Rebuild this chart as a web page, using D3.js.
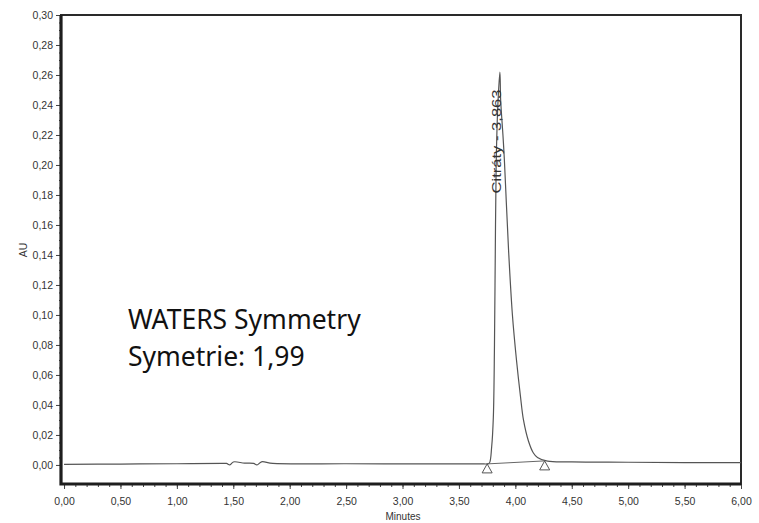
<!DOCTYPE html>
<html>
<head>
<meta charset="utf-8">
<script src="https://cdn.jsdelivr.net/npm/d3@7"></script>
<style>
  body { margin: 0; background: #fff; }
  .tick text { font-family: "Liberation Sans", Arial, sans-serif; font-size: 10.5px; fill: #333; }
  .tick line { stroke: #444; }
</style>
</head>
<body>
<div id="viz"></div>
<script>
// chromatogram trace (minutes, AU)
var times = [0.00, 0.50, 1.00, 1.40, 1.44, 1.47, 1.50, 1.60, 1.68, 1.71, 1.75, 1.85, 2.50, 3.00, 3.50, 3.70, 3.75,
  3.77, 3.79, 3.805, 3.815, 3.822, 3.83, 3.845, 3.863, 3.87, 3.89, 3.903, 3.92, 3.94, 3.974, 4.01, 4.045, 4.072,
  4.116, 4.16, 4.196, 4.285, 4.50, 5.00, 5.50, 6.00];
var au = [0.0004, 0.0006, 0.0008, 0.0010, 0.0010, 0.0000, 0.0020, 0.0012, 0.0010, 0.0000, 0.0021, 0.0010, 0.0008, 0.0007, 0.0007, 0.0007, 0.0007,
  0.0013, 0.012, 0.032, 0.080, 0.140, 0.200, 0.240, 0.262, 0.243, 0.220, 0.203, 0.175, 0.143, 0.100, 0.070, 0.046, 0.030,
  0.016, 0.008, 0.005, 0.0025, 0.0020, 0.0018, 0.0016, 0.0016];

// integration marks
var markTimes = [3.75, 4.26];
var markAu = [0.0007, 0.0027];

var peakName = "Citráty - 3,863";
var peakTime = 3.863;
var notes = ["WATERS Symmetry", "Symetrie: 1,99"];

var xTicks = d3.range(0, 6.01, 0.5);
var yTicks = d3.range(0, 0.301, 0.02);

var width = 759, height = 523;
var m = {left: 61, top: 15, right: 18, bottom: 39};
var w = width - m.left - m.right, h = height - m.top - m.bottom;

var svg = d3.select("#viz").append("svg").attr("width", width).attr("height", height);
var g = svg.append("g").attr("transform", "translate(" + m.left + "," + m.top + ")");

var x = d3.scaleLinear().domain([-0.027, 6]).range([0, w]);
var y = d3.scaleLinear().domain([-0.0127, 0.30]).range([h, 0]);

var comma = function(f) { return function(d) { return f(d).replace(".", ","); }; };

// minor ticks
g.append("g")
    .attr("class", "minor")
    .call(d3.axisLeft(y).tickValues(d3.range(0, 0.3001, 0.005)).tickSize(2).tickFormat(""))
    .call(function(s) { s.select(".domain").remove(); s.selectAll("line").attr("stroke", "#888"); });
g.append("g")
    .attr("class", "minor")
    .attr("transform", "translate(0," + h + ")")
    .call(d3.axisBottom(x).tickValues(d3.range(0, 6.001, 0.1)).tickSize(3).tickFormat(""))
    .call(function(s) { s.select(".domain").remove(); s.selectAll("line").attr("stroke", "#888"); });

// major axes
g.append("g")
    .call(d3.axisLeft(y).tickValues(yTicks).tickSize(5).tickPadding(3).tickFormat(comma(d3.format(".2f"))))
    .call(function(s) { s.select(".domain").remove(); });
g.append("g")
    .attr("transform", "translate(0," + h + ")")
    .call(d3.axisBottom(x).tickValues(xTicks).tickSize(5).tickPadding(9).tickFormat(comma(d3.format(".2f"))))
    .call(function(s) { s.select(".domain").remove(); });

// frame
g.append("rect")
    .attr("width", w).attr("height", h)
    .attr("fill", "none").attr("stroke", "#2a2a2a").attr("stroke-width", 2);
g.append("path")
    .attr("d", "M0,0 V" + h + " H" + w)
    .attr("fill", "none").attr("stroke", "#1e1e1e").attr("stroke-width", 3.2);

// trace
var line = d3.line()
    .x(function(d) { return x(d[0]); })
    .y(function(d) { return y(d[1]); })
    .curve(d3.curveCatmullRom.alpha(0.5));

g.append("path")
    .datum(d3.zip(times, au))
    .attr("d", line)
    .attr("fill", "none")
    .attr("stroke", "#555")
    .attr("stroke-width", 1.2);

// integration baseline and markers
g.append("line")
    .attr("x1", x(markTimes[0])).attr("y1", y(markAu[0]))
    .attr("x2", x(markTimes[1])).attr("y2", y(markAu[1]))
    .attr("stroke", "#666").attr("stroke-width", 1);

g.selectAll(".mark")
    .data(d3.zip(markTimes, markAu))
    .enter().append("path")
    .attr("class", "mark")
    .attr("d", function(d) {
      var cx = x(d[0]), cy = y(d[1]);
      return "M" + cx + "," + cy + " L" + (cx + 5) + "," + (cy + 9) + " L" + (cx - 5) + "," + (cy + 9) + " Z";
    })
    .attr("fill", "#fff").attr("stroke", "#555").attr("stroke-width", 1);

// peak label
g.append("text")
    .attr("transform", "translate(" + (x(peakTime) + 1) + "," + (y(0.181)) + ") rotate(-90)")
    .attr("font-family", "Liberation Sans, Arial, sans-serif")
    .attr("font-size", 12.5)
    .attr("textLength", 104)
    .attr("lengthAdjust", "spacingAndGlyphs")
    .attr("fill", "#333")
    .text(peakName);

// axis titles
svg.append("text")
    .attr("transform", "translate(27,250) rotate(-90)")
    .attr("text-anchor", "middle")
    .attr("font-family", "Liberation Sans, Arial, sans-serif")
    .attr("font-size", 10.5).attr("fill", "#333")
    .text("AU");
svg.append("text")
    .attr("x", m.left + w / 2 + 2).attr("y", 520)
    .attr("text-anchor", "middle")
    .attr("font-family", "Liberation Sans, Arial, sans-serif")
    .attr("font-size", 10).attr("fill", "#333")
    .text("Minutes");

// annotation
svg.selectAll(".note")
    .data(notes)
    .enter().append("text")
    .attr("class", "note")
    .attr("x", 128)
    .attr("y", function(d, i) { return 329 + i * 37; })
    .attr("font-family", "Noto Sans, Open Sans, sans-serif")
    .attr("font-size", 26.5)
    .attr("fill", "#111")
    .text(function(d) { return d; });
</script>
</body>
</html>
